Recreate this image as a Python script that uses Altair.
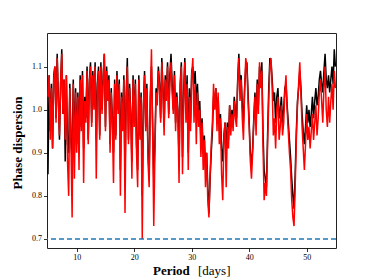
import altair as alt
import pandas as pd

# Period grid: 5.0 .. 55.0 days in steps of 0.2
period_start = 5.0
period_step = 0.2

red_values = [
    # 5.0 - 10.0
    1.03, 1.08, 0.93, 1.05, 0.91, 1.07, 1.10, 0.97, 1.12, 1.02, 0.94, 1.06, 1.13,
    0.99, 1.07, 0.93, 1.08, 0.88, 0.80, 1.05, 0.92, 0.75, 1.06, 0.84, 1.04, 0.90,
    # 10.2 - 17.0
    1.03, 0.86, 1.07, 0.95, 1.08, 0.83, 1.02, 0.97, 1.09, 0.92, 1.06, 1.10, 0.96,
    1.08, 1.00, 1.10, 0.84, 1.05, 1.09, 0.93, 1.10, 0.99, 1.07, 1.13, 0.95, 1.09,
    1.02, 1.07, 0.90, 1.04, 0.97, 0.83, 1.06, 0.93, 1.08,
    # 17.2 - 30.0
    0.99, 1.06, 0.80, 1.03, 0.95, 1.07, 0.76, 1.02, 1.10, 0.92, 1.05, 0.98, 0.84,
    1.07, 0.96, 1.06, 0.90, 0.82, 1.07, 0.93, 1.03, 0.70, 1.00, 1.08, 0.95, 1.05,
    0.88, 0.82, 1.02, 1.14, 0.96, 0.73, 0.90, 1.04, 1.01, 1.09, 1.05, 0.97, 1.11,
    1.04, 0.94, 1.07, 1.02, 1.10, 0.98, 1.06, 1.11, 1.04, 0.99, 1.08, 0.95, 1.03,
    0.99, 0.83, 1.05, 1.10, 0.85, 1.02, 1.11, 0.97, 1.06, 0.86, 1.03, 0.95, 1.08,
    # 30.2 - 42.8
    1.12, 0.97, 1.06, 0.92, 1.04, 0.96, 1.00, 0.89, 0.97, 0.86, 0.93, 0.82, 0.90,
    0.79, 0.75, 0.85, 0.92, 0.97, 1.06, 1.00, 1.05, 0.95, 1.04, 0.92, 0.98, 0.85,
    0.79, 0.93, 0.97, 0.82, 0.96, 0.91, 1.01, 0.94, 0.99, 0.95, 1.02, 0.98, 0.96,
    1.06, 1.12, 1.02, 1.07, 0.98, 0.93, 1.04, 1.12, 1.10, 1.02, 0.96, 0.88, 0.84,
    0.90, 0.97, 1.03, 0.94, 1.06, 0.99, 1.11, 1.05, 1.09, 0.92, 0.79, 0.83,
    # 43.0 - 55.0
    0.80, 0.92, 1.02, 1.10, 1.12, 1.05, 0.94, 0.98, 0.91, 1.00, 1.03, 0.93, 0.96,
    1.01, 0.94, 0.97, 1.04, 1.08, 1.00, 0.95, 0.90, 0.86, 0.79, 0.75, 0.73, 0.82,
    0.93, 1.01, 1.06, 1.11, 1.04, 0.96, 0.91, 0.86, 0.92, 0.99, 0.93, 0.96, 0.91,
    0.95, 0.99, 0.93, 0.97, 1.01, 0.94, 0.98, 1.04, 1.07, 1.02, 0.97, 1.05, 1.10,
    1.00, 0.96, 1.03, 0.97, 1.02, 1.06, 1.00, 1.09, 1.05,
]

black_values = [
    # 5.0 - 10.0
    0.85, 1.08, 0.95, 1.06, 0.91, 1.08, 1.10, 0.98, 1.13, 1.03, 0.93, 1.06, 1.14,
    0.99, 1.07, 0.88, 1.08, 0.92, 0.90, 1.06, 0.93, 0.88, 1.07, 0.90, 1.05, 0.92,
    # 10.2 - 17.0
    1.04, 0.90, 1.08, 0.96, 1.09, 0.91, 1.03, 0.98, 1.10, 0.93, 1.07, 1.11, 0.97,
    1.09, 1.01, 1.11, 0.93, 1.06, 1.10, 0.94, 1.11, 1.00, 1.08, 1.13, 0.96, 1.10,
    1.03, 1.08, 0.92, 1.05, 0.98, 0.90, 1.07, 0.94, 1.09,
    # 17.2 - 30.0
    1.00, 1.07, 0.86, 1.04, 0.96, 1.08, 0.85, 1.03, 1.12, 0.93, 1.06, 0.99, 0.88,
    1.08, 0.97, 1.07, 0.92, 0.86, 1.08, 0.94, 1.04, 0.80, 1.01, 1.09, 0.96, 1.06,
    0.90, 0.85, 1.03, 1.10, 0.97, 0.84, 0.92, 1.05, 1.03, 1.10, 1.06, 0.98, 1.12,
    1.05, 0.96, 1.08, 1.04, 1.11, 0.99, 1.08, 1.13, 1.06, 1.00, 1.09, 0.97, 1.04,
    1.00, 0.88, 1.06, 1.11, 0.89, 1.04, 1.12, 0.99, 1.08, 0.90, 1.05, 0.97, 1.09,
    # 30.2 - 42.8
    1.10, 1.06, 1.09, 1.01, 1.06, 0.99, 1.02, 0.93, 0.98, 0.90, 0.94, 0.86, 0.90,
    0.82, 0.76, 0.84, 0.90, 0.95, 1.03, 1.01, 1.05, 0.98, 1.03, 0.95, 0.99, 0.91,
    0.88, 0.94, 0.97, 0.90, 0.97, 0.93, 1.01, 0.96, 1.00, 0.97, 1.03, 1.00, 0.98,
    1.07, 1.13, 1.06, 1.08, 1.01, 0.97, 1.05, 1.10, 1.11, 1.04, 0.97, 0.90, 0.87,
    0.91, 0.98, 1.04, 0.97, 1.07, 1.01, 1.10, 1.06, 1.11, 0.95, 0.86, 0.84,
    # 43.0 - 55.0
    0.82, 0.94, 1.05, 1.12, 1.11, 1.07, 1.02, 1.04, 0.97, 1.03, 1.05, 0.98, 1.00,
    1.03, 0.97, 1.00, 1.05, 1.06, 1.01, 0.97, 0.93, 0.89, 0.84, 0.80, 0.77, 0.85,
    0.95, 1.02, 1.05, 1.09, 1.05, 0.99, 0.95, 0.92, 0.96, 1.01, 0.97, 1.00, 0.96,
    0.99, 1.03, 0.98, 1.02, 1.05, 1.01, 1.03, 1.07, 1.09, 1.06, 1.04, 1.09, 1.13,
    1.07, 1.05, 1.08, 1.04, 1.07, 1.10, 1.06, 1.14, 1.10,
]

threshold = 0.7
x_ticks = [10, 20, 30, 40, 50]
y_ticks = [0.7, 0.8, 0.9, 1.0, 1.1]
x_domain = [4.83, 55.1]
y_domain = [0.679, 1.178]


def frame(values):
    return pd.DataFrame({
        "period": [round(period_start + period_step * i, 3) for i in range(len(values))],
        "disp": values,
    })


W, H = 289, 215
FONT = "Liberation Serif"

xs = alt.X("period:Q", scale=alt.Scale(domain=x_domain, nice=False, zero=False),
           axis=alt.Axis(values=x_ticks, format="d", title=None))
ys = alt.Y("disp:Q", scale=alt.Scale(domain=y_domain, nice=False, zero=False),
           axis=alt.Axis(values=y_ticks, format=".1f", title=None))

black = alt.Chart(frame(black_values)).mark_line(
    color="#000000", strokeWidth=1.5, clip=True).encode(x=xs, y=ys)
red = alt.Chart(frame(red_values)).mark_line(
    color="#ff0000", strokeWidth=1.5, clip=True).encode(x=xs, y=ys)

rule = alt.Chart(pd.DataFrame({"y": [threshold]})).mark_rule(
    color="#1f77b4", strokeWidth=1.5, strokeDash=[5, 3]).encode(y=alt.Y("y:Q"))

one = pd.DataFrame({"a": [0]})
t_period = alt.Chart(one).mark_text(
    text="Period", font=FONT, fontSize=13, fontWeight="bold", align="left",
    baseline="middle", color="#000").encode(x=alt.value(106), y=alt.value(238))
t_days = alt.Chart(one).mark_text(
    text="[days]", font=FONT, fontSize=13, fontWeight="normal", align="left",
    baseline="middle", color="#000").encode(x=alt.value(151), y=alt.value(238))
t_y = alt.Chart(one).mark_text(
    text="Phase dispersion", font=FONT, fontSize=13, fontWeight="bold", angle=270,
    align="center", baseline="middle", color="#000").encode(
    x=alt.value(-29), y=alt.value(110))

chart = alt.layer(black, red, rule, t_period, t_days, t_y).properties(
    width=W, height=H,
    autosize=alt.AutoSizeParams(type="none"),
    padding={"left": 39, "top": 25, "right": 20, "bottom": 32},
).configure_view(
    stroke="#222222", strokeWidth=1
).configure_axis(
    labelFont=FONT, labelFontSize=8, labelColor="#000", tickColor="#000",
    tickSize=3.5, tickWidth=0.8, domain=False, grid=False, labelPadding=2
)

chart.save("out.html", embed_options={"renderer": "svg", "actions": False})
